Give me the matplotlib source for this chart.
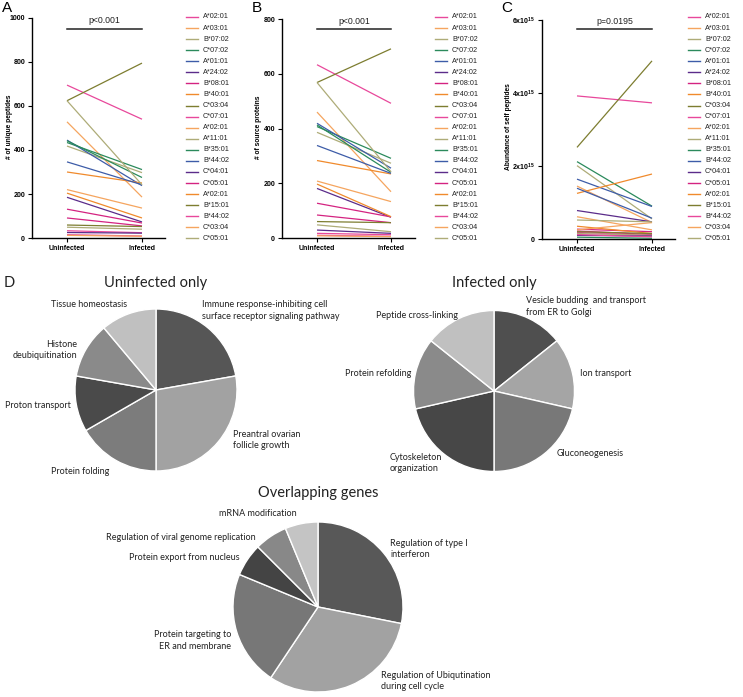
import matplotlib
matplotlib.use('Agg')
import matplotlib.pyplot as plt
from matplotlib.lines import Line2D

plt.rcParams['font.family'] = ['Liberation Sans', 'DejaVu Sans']
plt.rcParams['mathtext.default'] = 'regular'

W, H = 743, 697
fig = plt.figure(figsize=(W / 100, H / 100), dpi=100)


def fx(x):
    return x / W


def fy(y):
    return 1 - y / H


# ---------------- data ----------------
conditions = ['Uninfected', 'Infected']
alleles = ['A*02:01', 'A*03:01', 'B*07:02', 'C*07:02', 'A*01:01', 'A*24:02', 'B*08:01',
           'B*40:01', 'C*03:04', 'C*07:01', 'A*02:01', 'A*11:01', 'B*35:01', 'B*44:02',
           'C*04:01', 'C*05:01', 'A*02:01', 'B*15:01', 'B*44:02', 'C*03:04', 'C*05:01']

unique_uninfected = [695, 528, 418, 434, 445, 185, 131, 300, 624, 33, 220,
                     49, 442, 346, 25, 91, 204, 59, 15, 12, 624]
unique_infected = [540, 186, 297, 311, 238, 73, 68, 250, 795, 24, 136,
                   40, 275, 242, 22, 55, 91, 52, 9, 8, 242]

source_uninfected = [633, 460, 386, 407, 419, 181, 127, 283, 568, 17, 208,
                     48, 413, 338, 29, 84, 197, 60, 10, 8, 568]
source_infected = [492, 169, 273, 291, 255, 76, 77, 234, 691, 12, 133,
                   23, 240, 236, 17, 56, 78, 56, 6, 5, 242]

# abundance in units of 10^15
abund_uninfected = [3.92, 1.45, 2.01, 2.12, 1.64, 0.78, 0.22, 1.25, 2.51, 0.18, 0.61,
                    0.15, 0.05, 1.39, 0.10, 0.27, 0.35, 0.20, 0.12, 0.25, 0.52]
abund_infected = [3.73, 0.45, 0.55, 0.90, 0.89, 0.47, 0.12, 1.78, 4.88, 0.10, 0.25,
                  0.10, 0.02, 0.57, 0.08, 0.20, 0.15, 0.15, 0.06, 0.45, 0.47]

p_values = ['p<0.001', 'p<0.001', 'p=0.0195']

uninfected_terms = ['Immune response-inhibiting cell\nsurface receptor signaling pathway',
                    'Preantral ovarian\nfollicle growth', 'Protein folding',
                    'Proton transport', 'Histone\ndeubiquitination', 'Tissue homeostasis']
uninfected_counts = [4, 5, 3, 2, 2, 2]

infected_terms = ['Vesicle budding  and transport\nfrom ER to Golgi', 'Ion transport',
                  'Gluconeogenesis', 'Cytoskeleton\norganization', 'Protein refolding',
                  'Peptide cross-linking']
infected_counts = [2, 2, 3, 3, 2, 2]

overlap_terms = ['Regulation of type I\ninterferon',
                 'Regulation of Ubiqutination\nduring cell cycle',
                 'Protein targeting to\nER and membrane', 'Protein export from nucleus',
                 'Regulation of viral genome replication', 'mRNA modification']
overlap_counts = [9, 10, 7, 2, 2, 2]

# ---------------- styles ----------------
palette = ['#e8489b', '#f5a55f', '#aeac78', '#2b8a5c', '#3d5ca8',
           '#5b2c8a', '#d42381', '#f08a2c', '#7d7d30']
line_colors = [palette[i % len(palette)] for i in range(len(alleles))]


def line_panel(l, t, r, b, u_px, i_px, ymax, yticks, yticklabels, uninf, inf,
               ptext, pbar_y, ylabel, ylabel_x, letter, letter_x, leg_x):
    ax = fig.add_axes([fx(l), fy(b), (r - l) / W, (b - t) / H])
    for k in range(len(alleles)):
        ax.plot([0, 1], [uninf[k], inf[k]], color=line_colors[k], lw=0.9,
                solid_capstyle='butt')
    span = i_px - u_px
    ax.set_xlim((l - u_px) / span, (r - u_px) / span)
    ax.set_ylim(0, ymax)
    for s in ['top', 'right']:
        ax.spines[s].set_visible(False)
    for s in ['left', 'bottom']:
        ax.spines[s].set_linewidth(1.0)
    ax.set_xticks([0, 1])
    ax.set_xticklabels(conditions, fontsize=5, fontweight='bold')
    ax.set_yticks(yticks)
    ax.set_yticklabels(yticklabels, fontsize=5, fontweight='bold')
    ax.tick_params(axis='both', direction='out', length=3, width=0.8, pad=2)
    ax.plot([0, 1], [pbar_y, pbar_y], color='#222222', lw=1.1, clip_on=False)
    ax.annotate(ptext, xy=(0.5, pbar_y), xytext=(0, 4.0), textcoords='offset points',
                ha='center', va='baseline', fontsize=6.3, color='#222222')
    fig.text(fx(ylabel_x), fy(127), ylabel, rotation=90, ha='center',
             va='center', fontsize=4.8, fontweight='bold')
    fig.text(fx(letter_x), fy(8), letter, fontsize=11, ha='left', va='center')
    for k, (lab, col) in enumerate(zip(alleles, line_colors)):
        yy = fy(17 + k * 11.07)
        fig.add_artist(Line2D([fx(leg_x), fx(leg_x + 12)], [yy, yy], color=col, lw=1.0,
                              transform=fig.transFigure))
        fig.text(fx(leg_x + 17), yy, lab, fontsize=5.2, ha='left', va='center',
                 color='#222222')
    return ax


line_panel(32, 18, 165, 238, 67, 142, 1000, [0, 200, 400, 600, 800, 1000],
           ['0', '200', '400', '600', '800', '1000'], unique_uninfected, unique_infected,
           p_values[0], 950, '# of unique peptides', 10, 'A', 2, 186)
line_panel(282, 19, 415, 238, 317, 391, 800, [0, 200, 400, 600, 800],
           ['0', '200', '400', '600', '800'], source_uninfected, source_infected,
           p_values[1], 763, '# of source proteins', 259, 'B', 252, 435)
line_panel(542, 20, 675, 239, 577, 652, 6, [0, 2, 4, 6],
           ['0', '2x10$^{15}$', '4x10$^{15}$', '6x10$^{15}$'], abund_uninfected,
           abund_infected, p_values[2], 5.75, 'Abundance of self peptides', 508, 'C', 501, 688)

# ---------------- pies ----------------
pie_font = ['Lato', 'DejaVu Sans']


def pie_panel(cx, cy, r, counts, terms, shades, label_pos, title, title_y):
    pad = 1.02
    ax = fig.add_axes([fx(cx - r * pad), fy(cy + r * pad), 2 * r * pad / W, 2 * r * pad / H])
    ax.pie(counts, colors=shades, startangle=90, counterclock=False,
           wedgeprops=dict(edgecolor='white', linewidth=1.0))
    ax.set_xlim(-pad, pad)
    ax.set_ylim(-pad, pad)
    ax.set_aspect('equal')
    for term, (x, y, ha) in zip(terms, label_pos):
        fig.text(fx(x), fy(y), term, ha=ha, va='center', multialignment=ha,
                 fontsize=6.5, family=pie_font, color='#222222', linespacing=1.4)
    fig.text(fx(cx), fy(title_y), title, ha='center', va='center', fontsize=10.5,
             family=pie_font, color='#222222')


pie_panel(156, 390, 81, uninfected_counts, uninfected_terms,
          ['#565656', '#a2a2a2', '#7c7c7c', '#4a4a4a', '#8a8a8a', '#c0c0c0'],
          [(202, 310.5, 'left'), (233, 440, 'left'), (51, 472, 'left'),
           (5, 406, 'left'), (77, 350, 'right'), (51, 305, 'left')],
          'Uninfected only', 283)
pie_panel(494, 391, 80.5, infected_counts, infected_terms,
          ['#4f4f4f', '#a5a5a5', '#787878', '#474747', '#8a8a8a', '#c0c0c0'],
          [(526, 306.5, 'left'), (580, 373, 'left'), (557, 453, 'left'),
           (390, 463, 'left'), (345, 373, 'left'), (376, 315, 'left')],
          'Infected only', 283)
pie_panel(318, 607, 85, overlap_counts, overlap_terms,
          ['#585858', '#a2a2a2', '#777777', '#444444', '#888888', '#c4c4c4'],
          [(390, 549, 'left'), (381, 681, 'left'), (231, 640.5, 'right'),
           (129, 558, 'left'), (106, 537, 'left'), (219, 513, 'left')],
          'Overlapping genes', 493)

fig.text(fx(4), fy(283), 'D', fontsize=10.5, family=pie_font, ha='left', va='center',
         color='#222222')

fig.savefig('out.png', dpi=100)
